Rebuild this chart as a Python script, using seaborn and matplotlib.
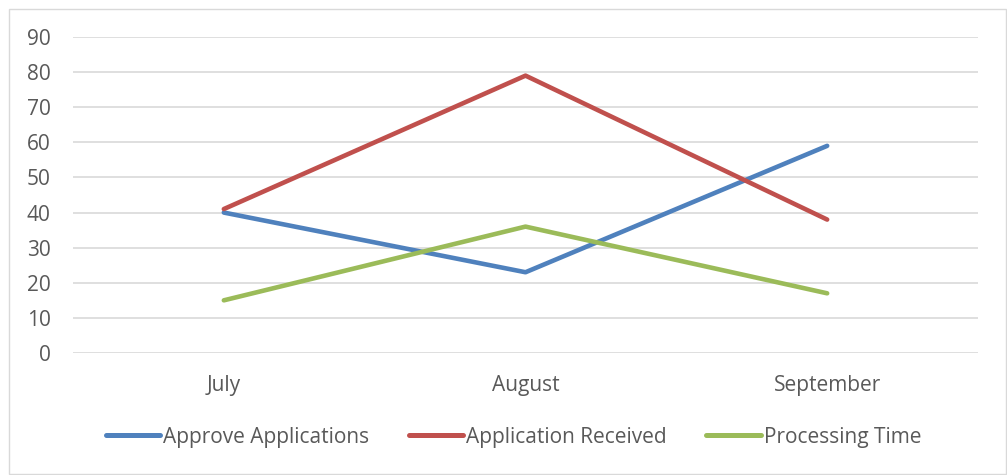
import pandas as pd
import matplotlib
matplotlib.use("Agg")
import matplotlib.pyplot as plt
from matplotlib.patches import Rectangle
import seaborn as sns

months = ["July", "August", "September"]
approve = [40, 23, 59]
received = [41, 79, 38]
processing = [15, 36, 17]
yticks = [0, 10, 20, 30, 40, 50, 60, 70, 80, 90]

series_names = ["Approve Applications", "Application Received", "Processing Time"]
colors = ["#4F81BD", "#C0504D", "#9BBB59"]

df = pd.DataFrame({
    "month": months * 3,
    "value": approve + received + processing,
    "series": [series_names[0]] * 3 + [series_names[1]] * 3 + [series_names[2]] * 3,
})

sns.set_style("white")
plt.rcParams["font.family"] = ["Open Sans", "DejaVu Sans"]

fig = plt.figure(figsize=(10.07, 4.75), dpi=100)
ax = fig.add_axes([73 / 1007, 1 - 353 / 475, 905 / 1007, 316 / 475])

sns.lineplot(data=df, x="month", y="value", hue="series", palette=colors,
             linewidth=3.3, ax=ax, sort=False, legend=False,
             solid_capstyle="round")

ax.set_ylim(0, 90)
ax.set_xlim(-0.5, 2.5)
ax.set_yticks(yticks)
ax.yaxis.grid(True, color="#D9D9D9", linewidth=1.2)
ax.set_axisbelow(True)
for s in ax.spines.values():
    s.set_visible(False)
ax.tick_params(axis="both", length=0, labelsize=15, labelcolor="#595959")
ax.tick_params(axis="y", pad=16)
ax.tick_params(axis="x", pad=16)
ax.set_xlabel("")
ax.set_ylabel("")

handles = [plt.Line2D([], [], color=c, linewidth=3.6, solid_capstyle="round") for c in colors]
fig.legend(handles, series_names, loc="center", bbox_to_anchor=(0.51, 1 - 437 / 475),
           ncol=3, frameon=False, fontsize=15, labelcolor="#595959",
           handlelength=2.6, handletextpad=0.15, columnspacing=1.9)

fig.patches.append(Rectangle((9 / 1007, 1 / 475), 997 / 1007, 465 / 475,
                             transform=fig.transFigure, fill=False,
                             edgecolor="#D9D9D9", linewidth=1))

fig.savefig("out.png", dpi=100)
